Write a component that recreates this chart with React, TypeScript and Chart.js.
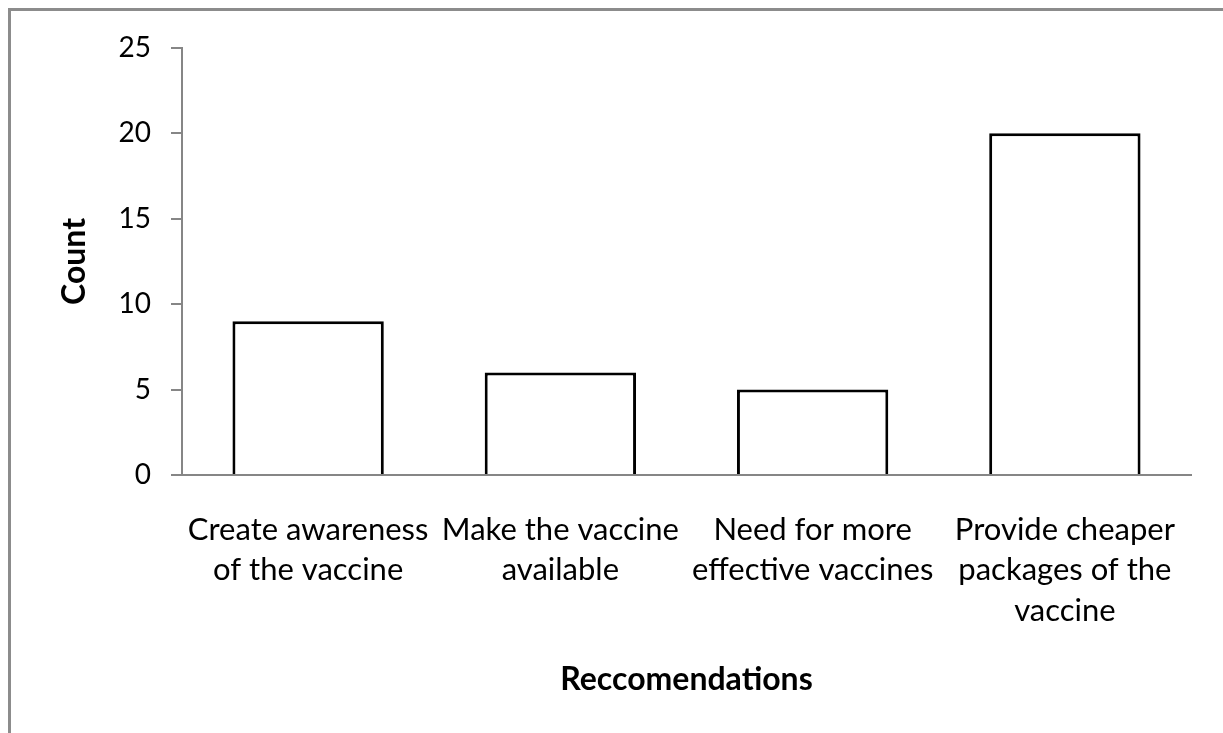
import React, { useEffect, useRef } from "react";
import { Chart, registerables } from "chart.js";

Chart.register(...registerables);

const categories: string[][] = [
  ["Create awareness", "of the vaccine"],
  ["Make the vaccine", "available"],
  ["Need for more", "effective vaccines"],
  ["Provide cheaper", "packages of the", "vaccine"],
];
const counts: number[] = [9, 6, 5, 20];
const yMin = 0;
const yMax = 25;
const yStep = 5;
const xTitle = "Reccomendations";
const yTitle = "Count";

const FONT = "Lato, 'Open Sans', sans-serif";

export default function App() {
  const ref = useRef<HTMLCanvasElement | null>(null);
  useEffect(() => {
    document.body.style.margin = "0";
    const canvas = ref.current;
    if (!canvas) return;
    const chart = new Chart(canvas, {
      type: "bar",
      data: {
        labels: categories,
        datasets: [
          {
            data: counts,
            backgroundColor: "#ffffff",
            borderColor: "#000000",
            borderWidth: 3,
            barPercentage: 0.6,
            categoryPercentage: 1,
          },
        ],
      },
      options: {
        animation: false,
        responsive: false,
        maintainAspectRatio: false,
        layout: { padding: { top: 36, right: 32, bottom: 0, left: 0 } },
        plugins: { legend: { display: false }, tooltip: { enabled: false } },
        scales: {
          x: {
            grid: { display: false, drawTicks: false, tickLength: 0 },
            border: { display: true, color: "#868686", width: 2 },
            ticks: {
              color: "#000",
              font: { family: FONT, size: 31, lineHeight: 1.3 },
              padding: 35,
              maxRotation: 0,
              autoSkip: false,
            },
            title: {
              display: true,
              text: xTitle,
              color: "#000",
              font: { family: FONT, size: 32, weight: "bold" },
              padding: { top: 0, bottom: 34 },
            },
            afterFit: (s: any) => {
              s.height = 258;
            },
          },
          y: {
            min: yMin,
            max: yMax,
            grid: {
              display: true,
              drawOnChartArea: false,
              drawTicks: true,
              tickLength: 11,
              color: "#868686",
              lineWidth: 2,
            },
            border: { display: true, color: "#868686", width: 2 },
            ticks: {
              stepSize: yStep,
              color: "#000",
              font: { family: FONT, size: 28 },
              padding: 20,
            },
            title: {
              display: true,
              text: yTitle,
              color: "#000",
              font: { family: FONT, size: 32, weight: "bold" },
              padding: { top: 44, bottom: 0 },
            },
            afterFit: (s: any) => {
              s.width = 171;
            },
          },
        },
      },
    });
    return () => chart.destroy();
  }, []);
  return (
    <div
      style={{
        position: "fixed",
        left: 8,
        top: 8,
        width: 1215,
        height: 725,
        borderTop: "3px solid #8c8c8c",
        borderLeft: "3px solid #8c8c8c",
        background: "#fff",
      }}
    >
      <canvas ref={ref} width={1212} height={722} style={{ display: "block" }} />
    </div>
  );
}
